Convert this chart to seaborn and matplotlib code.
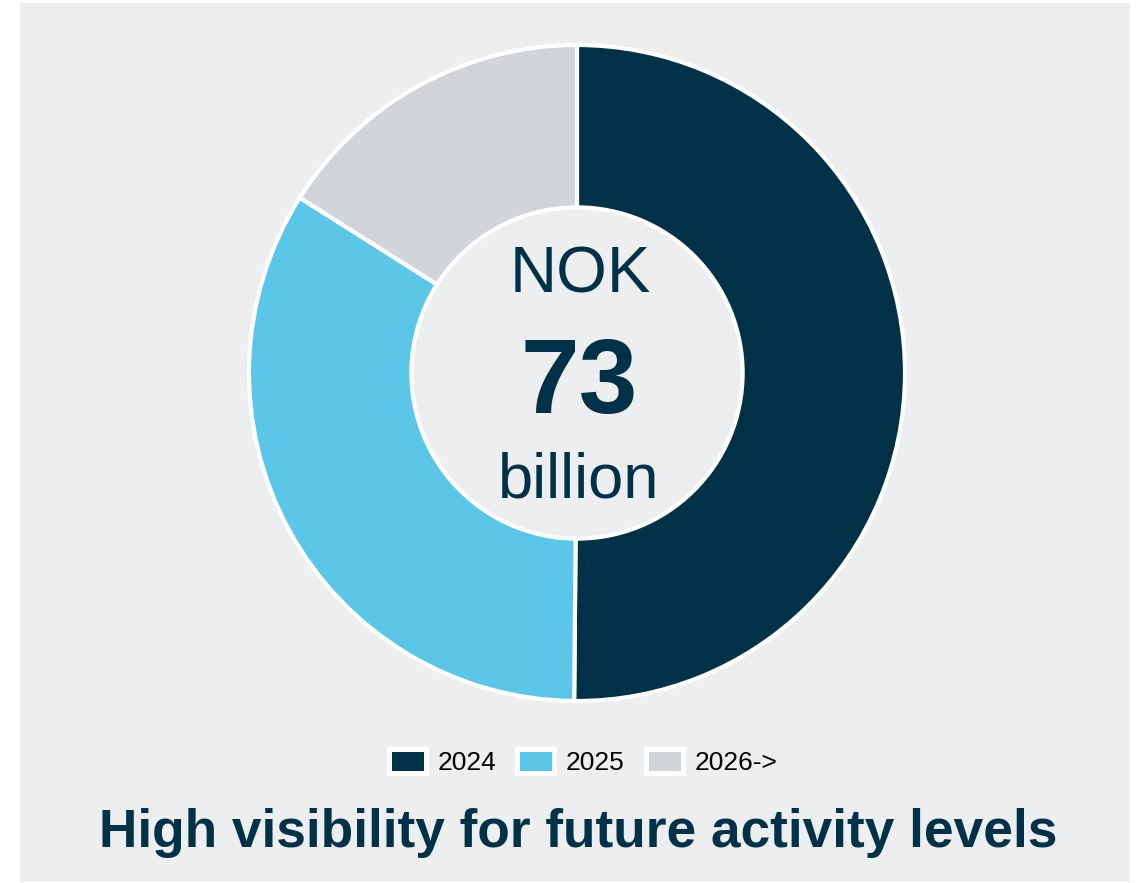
import matplotlib
matplotlib.use("Agg")
import matplotlib.pyplot as plt
from matplotlib.patches import Patch
import seaborn as sns

# Order backlog by year of execution (NOK billion)
periods = ["2024", "2025", "2026->"]
backlog = [36.6, 24.7, 11.7]
total_label = "73"
colors = ["#003146", "#5BC6E8", "#D0D5DA"]
title = "High visibility for future activity levels"

sns.set_theme(style="white")
plt.rcParams["font.family"] = ["Liberation Sans", "DejaVu Sans"]

W, H = 1141, 883
fig = plt.figure(figsize=(W / 100, H / 100), dpi=100)
fig.patch.set_facecolor("white")

# light panel behind the chart
bg = fig.add_axes([20 / W, 1 - 882 / H, (1130 - 20) / W, (882 - 3) / H], zorder=-5)
bg.set_facecolor("#ECEEF0")
bg.set_xticks([])
bg.set_yticks([])
for s in bg.spines.values():
    s.set_visible(False)

cx, cy, r = 577, 373, 328
pad = 1.03
side = 2 * r * pad
ax = fig.add_axes([(cx - side / 2) / W, 1 - (cy + side / 2) / H, side / W, side / H], zorder=1)
ax.set_facecolor("none")

pal = sns.color_palette(colors)
ax.pie(backlog, colors=pal, startangle=90, counterclock=False, radius=1.0,
       wedgeprops=dict(width=0.495, edgecolor="white", linewidth=3.0))
ax.set_xlim(-pad, pad)
ax.set_ylim(-pad, pad)
ax.set_aspect("equal")
ax.axis("off")

navy = "#003146"
ax.text(0.01, 0.244, "NOK", ha="center", va="baseline", fontsize=47, color=navy)
ax.text(0.008, -0.122, total_label, ha="center", va="baseline", fontsize=76,
        fontweight="bold", color=navy)
ax.text(0.006, -0.381, "billion", ha="center", va="baseline", fontsize=45.5, color=navy)

handles = [Patch(facecolor=c, edgecolor="white", linewidth=3.6, joinstyle="round", label=p)
           for c, p in zip(colors, periods)]
leg = fig.legend(handles=handles, loc="center", bbox_to_anchor=(583 / W, 1 - 762 / H),
                 ncol=3, frameon=False, fontsize=19, handlelength=1.4, handleheight=1.06,
                 columnspacing=0.8, handletextpad=0.44)
for t in leg.get_texts():
    t.set_color("black")

fig.text(578 / W, 1 - 833 / H, title, ha="center", va="center", fontsize=38.3,
         fontweight="bold", color=navy)

fig.savefig("out.png", dpi=100, facecolor=fig.get_facecolor())
